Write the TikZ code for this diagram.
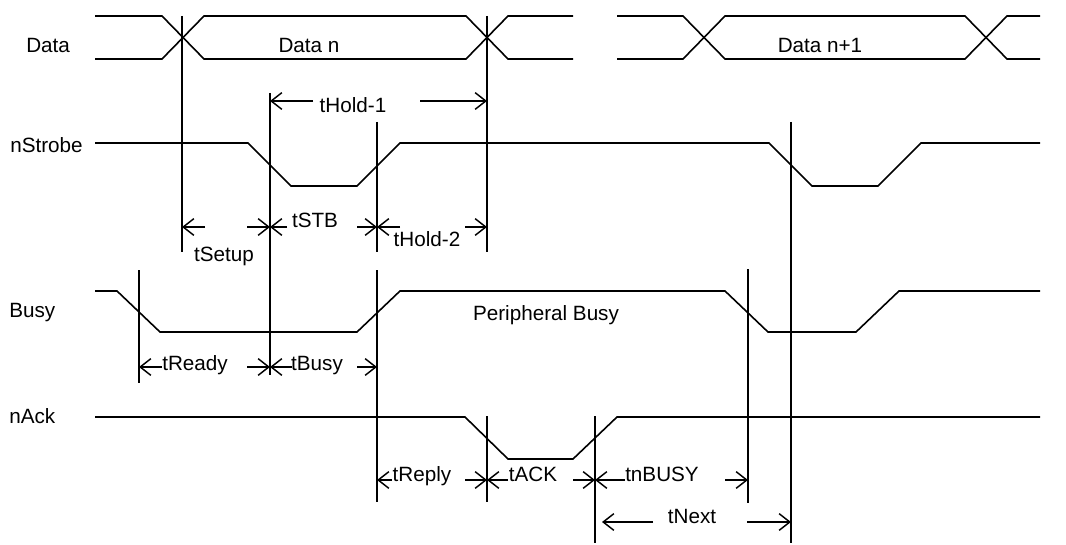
\documentclass[tikz,border=0pt]{standalone}
\usepackage{fontspec}
\setmainfont{Liberation Sans}
\usetikzlibrary{arrows.meta}

\begin{document}
\begin{tikzpicture}[x=0.75pt,y=-0.75pt,
   wave/.style={line width=1.2pt},
   guide/.style={line width=1.2pt},
   dim/.style={line width=1.1pt,-{Straight Barb[length=8pt,width=12.5pt]}},
   txt/.style={inner sep=0pt,anchor=base,font=\fontsize{15.5}{18}\selectfont}]
   \useasboundingbox (0,0) rectangle (1066,545);
   % signal names
   \node[txt,anchor=base west] (nData)   at (26,53)  {Data};
   \node[txt,anchor=base west] (nStrobe) at (10,153) {nStrobe};
   \node[txt,anchor=base west] (nBusy)   at (9,317)  {Busy};
   \node[txt,anchor=base west] (nAck)    at (9,423)  {nAck};
   % waveforms
   \draw[wave] (95,16) -- (162,16) -- (204,59) -- (466,59) -- (508,16) -- (573,16);
   \draw[wave] (95,59) -- (162,59) -- (204,16) -- (466,16) -- (508,59) -- (573,59);
   \draw[wave] (617,16) -- (683,16) -- (725,59) -- (965,59) -- (1007,16) -- (1040,16);
   \draw[wave] (617,59) -- (683,59) -- (725,16) -- (965,16) -- (1007,59) -- (1040,59);
   \draw[wave] (95,143) -- (248,143) -- (291,186) -- (357,186) -- (400,143) -- (769,143)
      -- (812,186) -- (878,186) -- (921,143) -- (1040,143);
   \draw[wave] (95,291) -- (117,291) -- (160,332) -- (357,332) -- (400,291) -- (725,291)
      -- (768,332) -- (856,332) -- (899,291) -- (1040,291);
   \draw[wave] (95,417) -- (465,417) -- (508,459) -- (573,459) -- (617,417) -- (1040,417);
   \node[txt] (dN)   at (309,53)  {Data n};
   \node[txt] (dN1)  at (820,53)  {Data n+1};
   \node[txt] (pBsy) at (546,320) {Peripheral Busy};
   % guide lines
   \draw[guide] (182,16) -- (182,252)  (487,16) -- (487,252);
   \draw[guide] (270,93) -- (270,375)  (139,270) -- (139,383);
   \draw[guide] (377,122) -- (377,252)  (377,270) -- (377,502);
   \draw[guide] (487,416) -- (487,502)  (595,416) -- (595,543);
   \draw[guide] (748,269) -- (748,503)  (791,122) -- (791,543);
   % timings
   \node[txt] (tHoldA) at (353,113) {tHold-1};
   \node[txt] (tSetup) at (224,261) {tSetup};
   \node[txt] (tSTB)   at (315,228) {tSTB};
   \node[txt] (tHoldB) at (427,247) {tHold-2};
   \node[txt] (tReady) at (195,370) {tReady};
   \node[txt] (tBusy)  at (317,370) {tBusy};
   \node[txt] (tReply) at (422,481) {tReply};
   \node[txt] (tACK)   at (533,481) {tACK};
   \node[txt] (tnBUSY) at (662,481) {tnBUSY};
   \node[txt] (tNext)  at (692,523) {tNext};
   \path[dim]
    (313,101) edge (270,101)  (420,101) edge (487,101)
    (205,227) edge (182,227)  (247,227) edge (270,227)
    (287,227) edge (270,227)  (357,227) edge (377,227)
    (400,227) edge (377,227)  (465,227) edge (487,227)
    (162,367) edge (139,367)  (247,367) edge (270,367)
    (292,367) edge (270,367)  (357,367) edge (377,367)
    (392,480) edge (377,480)  (465,480) edge (487,480)
    (508,480) edge (487,480)  (573,480) edge (595,480)
    (625,480) edge (595,480)  (725,480) edge (748,480)
    (653,522) edge (602,522)  (747,522) edge (791,522);
\end{tikzpicture}
\end{document}
